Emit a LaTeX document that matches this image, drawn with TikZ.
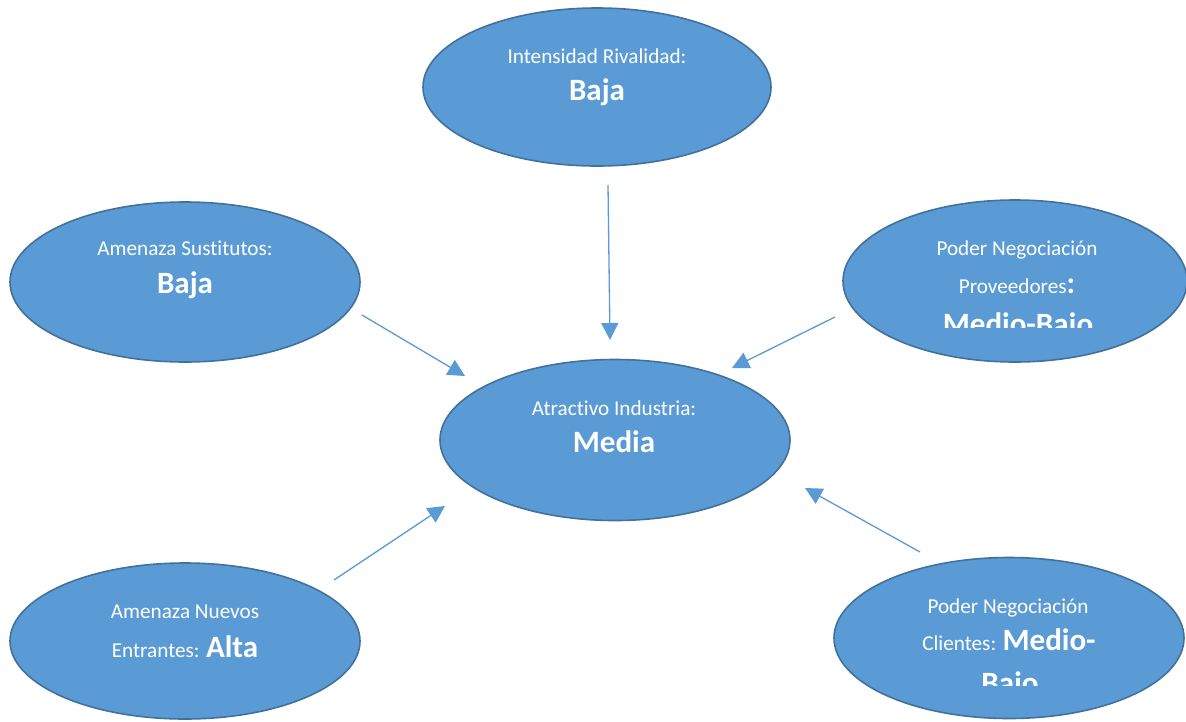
\documentclass[tikz,border=0pt]{standalone}
\usepackage{fontspec}
\setmainfont{Carlito}[RawFeature={-liga;-clig}]
\usetikzlibrary{arrows.meta,shapes.geometric}
\definecolor{fillblue}{HTML}{5B9BD5}
\definecolor{edgeblue}{HTML}{41719C}
\begin{document}
\begin{tikzpicture}[x=1pt,y=-1pt,
  oval/.style={ellipse, draw=edgeblue, line width=1.6pt, fill=fillblue, inner sep=0pt},
  lbl/.style={text=white, font=\fontsize{21.2}{23}\selectfont, anchor=base, inner sep=0pt},
  bigtxt/.style={font=\fontsize{31}{33}\selectfont\bfseries},
  conn/.style={draw=fillblue, line width=1.3pt, -{Triangle[length=17pt,width=17pt]}}]
\useasboundingbox (0,0) rectangle (1186,721);
\clip (0,0) rectangle (1186,721);
\fill[white] (0,0) rectangle (1186,721);

% ellipses
\node[oval, minimum width=348pt, minimum height=158pt] (rival) at (597,87) {};
\node[oval, minimum width=350pt, minimum height=160pt] (sust) at (185,282) {};
\node[oval, minimum width=344pt, minimum height=162pt] (prov) at (1015,281) {};
\node[oval, minimum width=350pt, minimum height=161pt] (atr) at (615,440) {};
\node[oval, minimum width=350pt, minimum height=156pt] (nuevos) at (185,641) {};
\node[oval, minimum width=350pt, minimum height=161pt] (cli) at (1009,638) {};

% texts
\node[lbl] (rivalA) at (597,63) {Intensidad Rivalidad:};
\node[lbl, bigtxt] (rivalB) at (597,100) {Baja};
\node[lbl] (sustA) at (185,255) {Amenaza Sustitutos:};
\node[lbl, bigtxt] (sustB) at (185,293) {Baja};
\node[lbl] (atrA) at (614,415) {Atractivo Industria:};
\node[lbl, bigtxt] (atrB) at (614,452) {Media};
\node[lbl] (provA) at (1017,255) {Poder Negociación};
\node[lbl] (provB) at (1017,293) {Proveedores{\fontsize{31}{33}\selectfont\bfseries :}};
\begin{scope}
  \clip (880,300) rectangle (1160,327);
  \node[lbl, bigtxt] (provC) at (1018,334) {Medio-Bajo};
\end{scope}
\node[lbl] (nuevosA) at (185,618) {Amenaza Nuevos};
\node[lbl] (nuevosB) at (185,657) {Entrantes: {\fontsize{31}{33}\selectfont\bfseries Alta}};
\node[lbl] (cliA) at (1008,613) {Poder Negociación};
\node[lbl] (cliB) at (1009,650) {Clientes: {\fontsize{31}{33}\selectfont\bfseries Medio-}};
\begin{scope}
  \clip (880,660) rectangle (1160,685);
  \node[lbl, bigtxt] (cliC) at (1010,693) {Bajo};
\end{scope}

% connector end points
\coordinate (rs) at (608,185);
\coordinate (re) at (610,340);
\coordinate (ss) at (362,315);
\coordinate (se) at (465,376);
\coordinate (ps) at (835,317);
\coordinate (pe) at (732,368);
\coordinate (ns) at (334,580);
\coordinate (ne) at (445,506);
\coordinate (cs) at (920,552);
\coordinate (ce) at (805,488);

\draw[conn] (rs) -- (re);
\draw[conn] (ss) -- (se);
\draw[conn] (ps) -- (pe);
\draw[conn] (ns) -- (ne);
\draw[conn] (cs) -- (ce);
\end{tikzpicture}
\end{document}
